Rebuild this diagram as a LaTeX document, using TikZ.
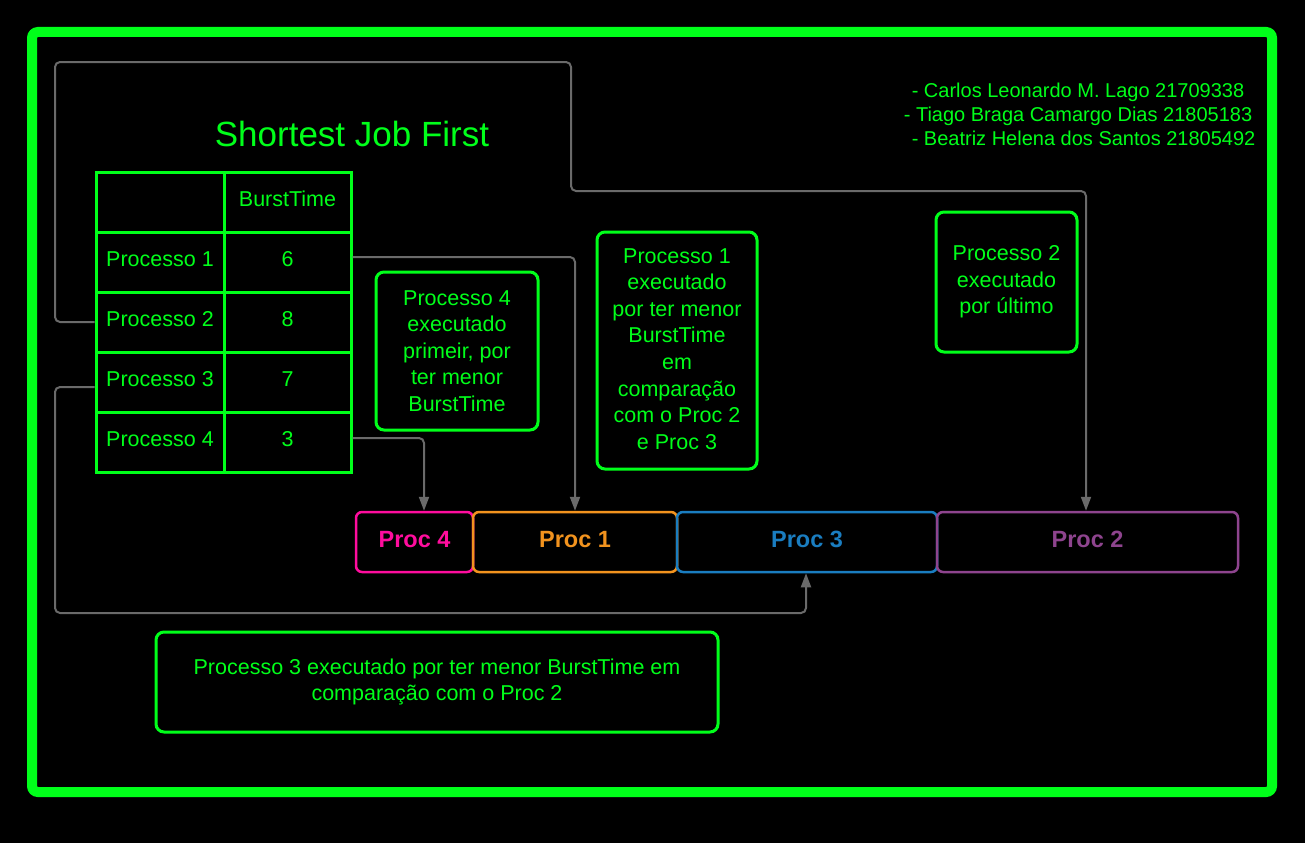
\documentclass[tikz,border=0pt]{standalone}
\usepackage{fontspec}
\setmainfont{Liberation Sans}
\usetikzlibrary{arrows.meta}
\definecolor{neon}{HTML}{00FF1A}
\definecolor{wire}{HTML}{6A6A6A}
\definecolor{pinkp}{HTML}{FF0D9E}
\definecolor{orangep}{HTML}{F2931E}
\definecolor{bluep}{HTML}{1A7DC0}
\definecolor{purplep}{HTML}{8E448E}
\tikzset{
  cell/.style={draw=neon, line width=3pt, text=neon, inner sep=0pt,
    minimum height=60pt, text height=16pt, text depth=7.5pt,
    font=\fontsize{21.5}{25}\selectfont},
  note/.style={draw=neon, line width=3pt, rounded corners=8pt, text=neon,
    align=center, inner sep=0pt, font=\fontsize{21.5}{26.6}\selectfont},
  procbox/.style={line width=2.5pt, rounded corners=6pt, inner sep=0pt,
    minimum height=60pt, text height=17.5pt, text depth=6.5pt,
    font=\bfseries\fontsize{23.5}{28}\selectfont},
  conn/.style={draw=wire, line width=2pt, rounded corners=5pt},
  tip/.style={-{Triangle[width=10pt,length=14pt]}},
}
\begin{document}
\begin{tikzpicture}[x=1pt,y=-1pt]
  \fill[black] (0,0) rectangle (1305,843);
  \useasboundingbox (0,0) rectangle (1305,843);

  % outer frame
  \draw[neon, line width=10pt, rounded corners=6pt] (32,32) rectangle (1272,792);

  % title and authors
  \node[text=neon, font=\fontsize{35}{40}\selectfont] (title) at (352,134) {Shortest Job First};
  \node[text=neon, align=center, font=\fontsize{20}{24}\selectfont] (authors) at (1078,114)
    {- Carlos Leonardo M. Lago 21709338\\
     - Tiago Braga Camargo Dias 21805183\\
     \ \ - Beatriz Helena dos Santos 21805492};

  % burst time table
  \node[cell, minimum width=128pt] (h0) at (160,202) {};
  \node[cell, minimum width=127pt] (h1) at (287.5,202) {BurstTime};
  \node[cell, minimum width=128pt] (r1a) at (160,262) {Processo 1};
  \node[cell, minimum width=127pt] (r1b) at (287.5,262) {6};
  \node[cell, minimum width=128pt] (r2a) at (160,322) {Processo 2};
  \node[cell, minimum width=127pt] (r2b) at (287.5,322) {8};
  \node[cell, minimum width=128pt] (r3a) at (160,382) {Processo 3};
  \node[cell, minimum width=127pt] (r3b) at (287.5,382) {7};
  \node[cell, minimum width=128pt] (r4a) at (160,442) {Processo 4};
  \node[cell, minimum width=127pt] (r4b) at (287.5,442) {3};

  % explanation notes
  \node[note, minimum width=162pt, minimum height=158pt] (n4) at (457,351)
    {Processo 4\\executado\\primeir, por\\ter menor\\BurstTime};
  \node[note, minimum width=160pt, minimum height=237pt] (n1) at (677,350.5)
    {Processo 1\\executado\\por ter menor\\BurstTime\\em\\comparação\\com o Proc 2\\e Proc 3\vspace{3pt}};
  \node[note, minimum width=141pt, minimum height=140pt] (n2) at (1006.5,282)
    {Processo 2\\executado\\por último};
  \node[note, minimum width=562pt, minimum height=100pt] (n3) at (437,682)
    {Processo 3 executado por ter menor BurstTime em\\comparação com o Proc 2};

  % execution order
  \node[procbox, draw=pinkp, text=pinkp, minimum width=117pt] (p4) at (414.5,542) {Proc 4};
  \node[procbox, draw=orangep, text=orangep, minimum width=204pt] (p1) at (575,542) {Proc 1};
  \node[procbox, draw=bluep, text=bluep, minimum width=260pt] (p3) at (807,542) {Proc 3};
  \node[procbox, draw=purplep, text=purplep, minimum width=301pt] (p2) at (1087.5,542) {Proc 2};

  % connectors
  \draw[conn, tip] ([yshift=5pt]r1b.east) -| (p1.north);
  \draw[conn, tip] ([yshift=4pt]r4b.east) -| ([xshift=9.5pt]p4.north);
  \draw[conn, tip] (r2a.west) -- (55,322) -- (55,62) -- (571,62) -- (571,191) -| ([xshift=-1.5pt]p2.north);
  \draw[conn, tip] ([yshift=-5pt]r3a.west) -- (55,387) -- (55,613) -| ([xshift=-1pt]p3.south);
\end{tikzpicture}
\end{document}
